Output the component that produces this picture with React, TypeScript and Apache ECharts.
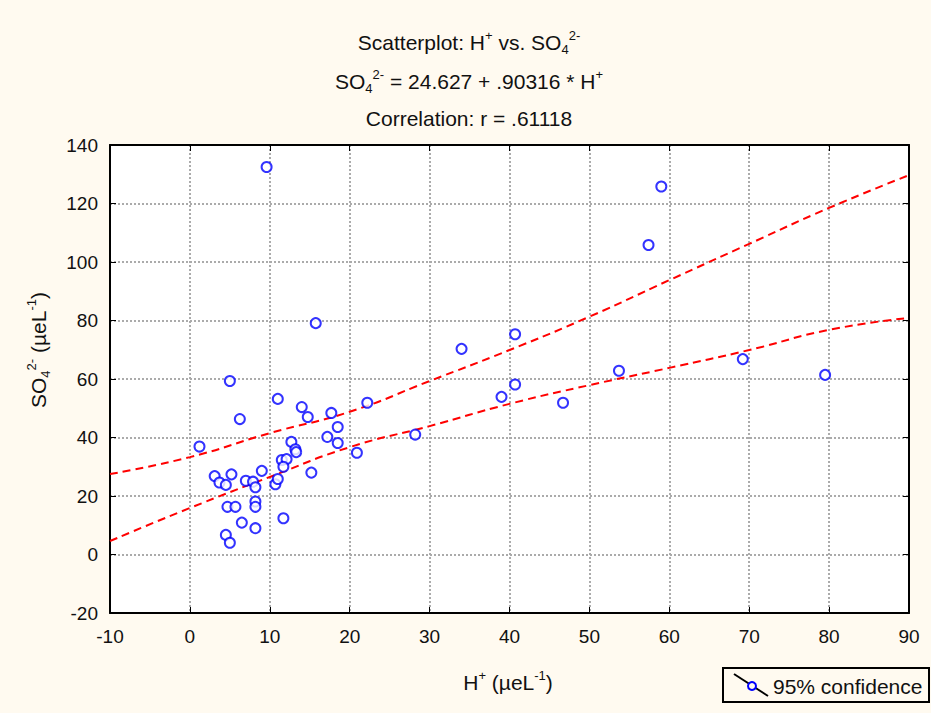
import React, { useEffect, useRef } from "react";
import * as echarts from "echarts";

// H+ (µeL-1) values
const hPlus = [
  9.6, 15.75, 5.0, 6.25, 1.2, 11.0, 14.0, 14.75, 17.7, 18.5,
  17.2, 18.5, 12.7, 13.2, 13.3, 11.5, 12.1, 11.7, 20.9, 15.2,
  22.2, 3.1, 3.7, 4.5, 5.2, 7.0, 7.9, 8.2, 9.0, 4.7,
  5.7, 8.2, 8.2, 6.5, 8.2, 4.5, 5.0, 11.7, 10.7, 11.0,
  34.0, 40.7, 40.7, 39.0, 46.7, 28.2, 59.0, 57.4, 53.7, 69.2,
  79.5,
];
// SO4 2- (µeL-1) values
const so4 = [
  132.5, 79.1, 59.3, 46.3, 36.9, 53.2, 50.4, 47.0, 48.4, 43.6,
  40.2, 38.1, 38.5, 36.0, 35.0, 32.3, 32.6, 30.0, 34.8, 28.0,
  51.9, 26.8, 24.6, 23.8, 27.4, 25.2, 24.9, 23.0, 28.6, 16.3,
  16.3, 18.1, 16.3, 10.9, 9.0, 6.7, 4.0, 12.4, 24.0, 25.8,
  70.3, 75.3, 58.1, 53.9, 51.9, 41.0, 125.8, 105.8, 62.8, 66.8,
  61.4,
];
// 95% confidence band
const bandX = [-10, 0, 10, 20, 30, 40, 50, 60, 70, 80, 90];
const upperBand = [27.5, 33.3, 41.5, 48.8, 59.3, 69.9, 81.3, 93.8, 106.2, 118.5, 129.7];
const lowerBand = [4.6, 15.9, 26.5, 36.7, 43.9, 51.5, 57.9, 63.8, 69.9, 76.8, 80.9];

const xTicks = { min: -10, max: 90, interval: 10 };
const yTicks = { min: -20, max: 140, interval: 20 };

const FONT = "'Liberation Sans', Arial, sans-serif";
const TXT = "#111";
const BG = "#fffaf0";

function richStyles(size: number) {
  const small = Math.round(size * 0.62);
  return {
    a: { fontSize: size, fontFamily: FONT, fill: TXT, lineHeight: size + 6 },
    sup: { fontSize: small, fontFamily: FONT, fill: TXT, lineHeight: small, verticalAlign: "top" },
    sub: { fontSize: small, fontFamily: FONT, fill: TXT, lineHeight: small, verticalAlign: "bottom" },
  };
}

export default function App() {
  const ref = useRef<HTMLDivElement>(null);
  useEffect(() => {
    document.body.style.margin = "0";
    const chart = echarts.init(ref.current!, undefined, { renderer: "svg" });
    const points = hPlus.map((x, i) => [x, so4[i]]);
    const up = bandX.map((x, i) => [x, upperBand[i]]);
    const lo = bandX.map((x, i) => [x, lowerBand[i]]);
    const gridLine = { show: true, lineStyle: { color: "#ababab", width: 2, type: [2, 2] as any } };
    const axisBase = {
      type: "value" as const,
      axisLine: { show: true, onZero: false, lineStyle: { color: "#000", width: 2 } },
      axisTick: { show: true, inside: true, length: 6, lineStyle: { color: "#000", width: 1 } },
    };
    const titleSize = 21;
    const tickFont = { color: TXT, fontSize: 19, fontFamily: FONT };
    chart.setOption({
      animation: false,
      backgroundColor: BG,
      grid: {
        left: 110, top: 145, right: 22, bottom: 100,
        show: true, backgroundColor: "#fff", borderWidth: 0,
      },
      xAxis: [
        {
          ...axisBase, ...xTicks, position: "bottom",
          splitLine: gridLine,
          axisLabel: { ...tickFont, margin: 14 },
        },
        {
          ...axisBase, ...xTicks, position: "top",
          splitLine: { show: false }, axisLabel: { show: false },
        },
      ],
      yAxis: [
        {
          ...axisBase, ...yTicks, position: "left",
          splitLine: gridLine,
          axisLabel: { ...tickFont, margin: 12 },
        },
        {
          ...axisBase, ...yTicks, position: "right",
          splitLine: { show: false }, axisLabel: { show: false },
        },
      ],
      series: [
        {
          type: "line", data: up, smooth: true, showSymbol: false, symbol: "none",
          lineStyle: { color: "#ff0000", width: 2, type: [8, 5] as any }, z: 2,
        },
        {
          type: "line", data: lo, smooth: true, showSymbol: false, symbol: "none",
          lineStyle: { color: "#ff0000", width: 2, type: [8, 5] as any }, z: 2,
        },
        {
          type: "scatter", data: points, symbol: "emptyCircle", symbolSize: 10,
          itemStyle: { color: "#0000ff", borderColor: "#0000ff", borderWidth: 2 }, z: 3,
        },
      ],
      graphic: [
        {
          type: "text", x: 469, y: 42,
          style: {
            text: "{a|Scatterplot: H}{sup|+}{a| vs. SO}{sub|4}{sup|2-}",
            rich: richStyles(titleSize) as any, align: "center", verticalAlign: "middle",
          },
        },
        {
          type: "text", x: 469, y: 81,
          style: {
            text: "{a|SO}{sub|4}{sup|2-}{a| = 24.627 + .90316 * H}{sup|+}",
            rich: richStyles(titleSize) as any, align: "center", verticalAlign: "middle",
          },
        },
        {
          type: "text", x: 469, y: 118,
          style: {
            text: "Correlation: r = .61118",
            font: `${titleSize}px ${FONT}`, fill: TXT, align: "center", verticalAlign: "middle",
          },
        },
        {
          type: "text", x: 508, y: 682,
          style: {
            text: "{a|H}{sup|+}{a| (µeL}{sup|-1}{a|)}",
            rich: richStyles(titleSize) as any, align: "center", verticalAlign: "middle",
          },
        },
        {
          type: "text", x: 38, y: 350, rotation: Math.PI / 2,
          style: {
            text: "{a|SO}{sub|4}{sup|2-}{a| (µeL}{sup|-1}{a|)}",
            rich: richStyles(titleSize) as any, align: "center", verticalAlign: "middle",
          },
        },
        {
          type: "rect", shape: { x: 723, y: 668, width: 206, height: 34 },
          style: { fill: BG, stroke: "#000", lineWidth: 2 },
        },
        {
          type: "line", shape: { x1: 734, y1: 674, x2: 768, y2: 696 },
          style: { stroke: "#000", lineWidth: 2 },
        },
        {
          type: "circle", shape: { cx: 752, cy: 686, r: 4 },
          style: { fill: BG, stroke: "#0000ff", lineWidth: 2 },
        },
        {
          type: "text", x: 773, y: 686,
          style: {
            text: "95% confidence", font: `${titleSize}px ${FONT}`, fill: TXT,
            align: "left", verticalAlign: "middle",
          },
        },
      ],
    });
    return () => chart.dispose();
  }, []);
  return (
    <div
      ref={ref}
      style={{ position: "fixed", left: 0, top: 0, width: 931, height: 713 }}
    />
  );
}
